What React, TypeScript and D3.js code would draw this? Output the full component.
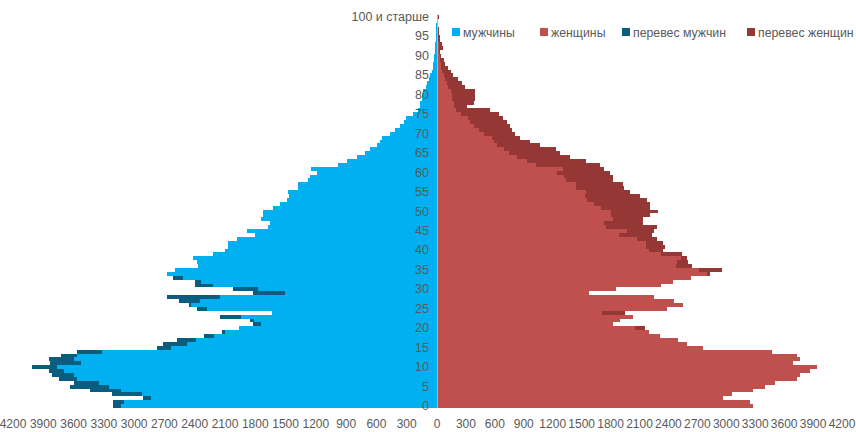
import * as d3 from "d3";

// age groups 0..100 ("100 и старше" is the last one)
const ages: number[] = Array.from({ length: 101 }, (_, i) => i);

// population by single year of age
const males: number[] = [
  3270, 3270, 2970, 3280, 3500, 3710, 3660, 3820, 3890, 3920,
  4090, 3910, 3920, 3800, 3630, 2830, 2770, 2620, 2350, 2170,
  2000, 1860, 1890, 2190, 1670, 2420, 2500, 2600, 2730, 1860,
  2060, 2440, 2440, 2670, 2730, 2650, 2410, 2420, 2460, 2260,
  2140, 2110, 2110, 2020, 1840, 1920, 1710, 1690, 1780, 1760,
  1760, 1660, 1590, 1510, 1490, 1500, 1400, 1400, 1300, 1280,
  1210, 1270, 1000, 910, 810, 730, 680, 610, 580, 560,
  470, 420, 370, 330, 310, 240, 190, 170, 170, 150,
  150, 140, 110, 100, 80, 70, 50, 40, 40, 30,
  30, 20, 20, 20, 15, 15, 10, 10, 10, 5,
  5,
];

const females: number[] = [
  3190, 3160, 2890, 2980, 3190, 3310, 3410, 3630, 3660, 3770,
  3840, 3590, 3660, 3630, 3380, 2690, 2520, 2430, 2250, 2140,
  2100, 1780, 1850, 1980, 1900, 2320, 2480, 2390, 2190, 1530,
  1810, 2260, 2380, 2560, 2760, 2880, 2570, 2530, 2520, 2470,
  2280, 2300, 2280, 2220, 2170, 2190, 2220, 2080, 2080, 2150,
  2230, 2150, 2150, 2120, 2050, 1950, 1890, 1880, 1780, 1780,
  1750, 1690, 1650, 1500, 1340, 1240, 1200, 1040, 940, 840,
  790, 760, 740, 710, 670, 630, 540, 300, 370, 380,
  380, 380, 280, 250, 210, 160, 140, 110, 80, 70,
  40, 30, 60, 50, 30, 30, 20, 20, 15, 15,
  20,
];

const ageTicks: number[] = [0, 5, 10, 15, 20, 25, 30, 35, 40, 45, 50, 55, 60, 65, 70, 75, 80, 85, 90, 95, 100];
const ageTickLabels: string[] = ["0", "5", "10", "15", "20", "25", "30", "35", "40", "45", "50", "55", "60", "65", "70", "75", "80", "85", "90", "95", "100 и старше"];
const valueTicks: number[] = [0, 300, 600, 900, 1200, 1500, 1800, 2100, 2400, 2700, 3000, 3300, 3600, 3900, 4200];

const legendItems = [
  { label: "мужчины", color: "#00b0f0", x: 452 },
  { label: "женщины", color: "#c0504d", x: 540 },
  { label: "перевес мужчин", color: "#0b5d80", x: 622 },
  { label: "перевес женщин", color: "#953735", x: 747 },
];

const FONT = "'Liberation Sans', Arial, sans-serif";
const TEXT = "#595959";

export default function App() {
  const width = 856;
  const height = 432;
  const x0 = 437;
  const halfWidth = 416;

  // bar scales (both halves share the same unit length)
  const xLeft = d3.scaleLinear().domain([0, 4200]).range([x0, x0 - halfWidth]);
  const xRight = d3.scaleLinear().domain([0, 4200]).range([x0, x0 + halfWidth]);
  // the tick label rows are spread a little differently on each side
  const xLeftAxis = d3.scaleLinear().domain([0, 4200]).range([x0, 13]);
  const xRightAxis = d3.scaleLinear().domain([0, 4200]).range([x0, 842]);
  const y = d3.scaleBand<number>().domain(ages).range([408, 15.1]).padding(0);
  const bh = y.bandwidth();

  const rows = ages.map((a, i) => {
    const m = males[i];
    const f = females[i];
    const common = Math.min(m, f);
    return { age: a, common, exM: Math.max(0, m - f), exF: Math.max(0, f - m) };
  });

  return (
    <svg
      width={width}
      height={height}
      style={{ position: "absolute", left: 0, top: 0, background: "#fff" }}
      fontFamily={FONT}
    >
      <g shapeRendering="crispEdges">
        {rows.map((r) => (
          <g key={r.age}>
            <rect x={xLeft(r.common)} y={y(r.age)} width={x0 - xLeft(r.common)} height={bh} fill="#00b0f0" />
            {r.exM > 0 && (
              <rect
                x={xLeft(r.common + r.exM)}
                y={y(r.age)}
                width={xLeft(r.common) - xLeft(r.common + r.exM)}
                height={bh}
                fill="#0b5d80"
              />
            )}
            <rect x={x0} y={y(r.age)} width={xRight(r.common) - x0} height={bh} fill="#c0504d" />
            {r.exF > 0 && (
              <rect
                x={xRight(r.common)}
                y={y(r.age)}
                width={xRight(r.common + r.exF) - xRight(r.common)}
                height={bh}
                fill="#953735"
              />
            )}
          </g>
        ))}
        <line x1={x0} x2={x0} y1={14} y2={408} stroke="#c8c8c8" strokeWidth={0.8} />
      </g>

      {/* age labels */}
      {ageTicks.map((a, i) => (
        <text
          key={a}
          x={429}
          y={(y(a) ?? 0) + bh / 2}
          textAnchor="end"
          dominantBaseline="central"
          fontSize={12.5}
          fill={TEXT}
        >
          {ageTickLabels[i]}
        </text>
      ))}

      {/* value axis, mirrored */}
      {valueTicks.map((v) => (
        <text key={"l" + v} x={xLeftAxis(v)} y={428} textAnchor="middle" fontSize={12} fill={TEXT}>
          {v}
        </text>
      ))}
      {valueTicks.slice(1).map((v) => (
        <text key={"r" + v} x={xRightAxis(v)} y={428} textAnchor="middle" fontSize={12} fill={TEXT}>
          {v}
        </text>
      ))}

      {/* legend */}
      {legendItems.map((d) => (
        <g key={d.label} transform={`translate(${d.x},28)`}>
          <rect width={8} height={8} fill={d.color} />
          <text x={11} y={8.5} fontSize={12.3} fill={TEXT}>
            {d.label}
          </text>
        </g>
      ))}
    </svg>
  );
}
